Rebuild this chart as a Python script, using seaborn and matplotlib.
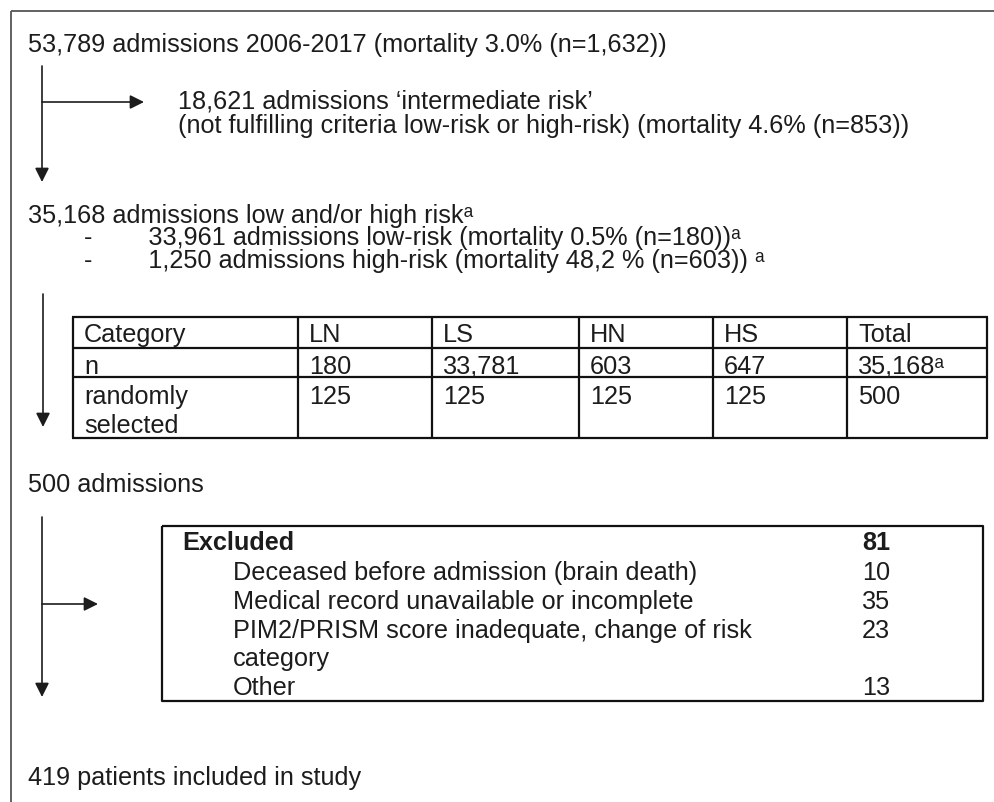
import matplotlib
matplotlib.use("Agg")
import matplotlib.pyplot as plt
import seaborn as sns

sns.set_theme(style="white")
plt.rcParams['font.family'] = ['Liberation Sans', 'DejaVu Sans']

SUPA = "\u1d43"  # modifier letter small a (superscript a)

# ---------------- data ----------------
total_line = "53,789 admissions 2006-2017 (mortality 3.0% (n=1,632))"
intermediate_lines = ["18,621 admissions \u2018intermediate risk\u2019",
                      "(not fulfilling criteria low-risk or high-risk) (mortality 4.6% (n=853))"]
lowhigh_line = "35,168 admissions low and/or high risk" + SUPA
sub_lines = ["33,961 admissions low-risk (mortality 0.5% (n=180))" + SUPA,
             "1,250 admissions high-risk (mortality 48,2 % (n=603)) " + SUPA]
categories = ["Category", "LN", "LS", "HN", "HS", "Total"]
n_values = ["n", "180", "33,781", "603", "647", "35,168" + SUPA]
selected_values = ["randomly\nselected", "125", "125", "125", "125", "500"]
selected_line = "500 admissions"
excluded_title = "Excluded"
excluded_total = "81"
excluded_reasons = ["Deceased before admission (brain death)",
                    "Medical record unavailable or incomplete",
                    "PIM2/PRISM score inadequate, change of risk\ncategory",
                    "Other"]
excluded_counts = ["10", "35", "23", "13"]
final_line = "419 patients included in study"

# ---------------- layout ----------------
W, H = 994, 803
FS = 18.2
TXT = "#1c1c1c"
fig = plt.figure(figsize=(W / 100, H / 100), dpi=100)
ax = fig.add_axes([0, 0, 1, 1])
ax.set_xlim(0, W)
ax.set_ylim(H, 0)
ax.axis("off")


def txt(x, y, s, **kw):
    kw.setdefault("fontsize", FS)
    kw.setdefault("color", TXT)
    kw.setdefault("va", "baseline")
    kw.setdefault("ha", "left")
    return ax.text(x, y, s, **kw)


def arrow(x0, y0, x1, y1):
    ax.annotate("", xy=(x1, y1), xytext=(x0, y0),
                arrowprops=dict(arrowstyle="-|>", color="#1c1c1c", lw=1.2,
                                mutation_scale=21, shrinkA=0, shrinkB=0))


def line(xs, ys, lw=1.2, color="#1c1c1c"):
    ax.plot(xs, ys, color=color, lw=lw, solid_capstyle="butt")


# outer frame (top and left)
line([11, W], [12, 12], lw=1.3, color="#555555")
line([11, 11], [12, H], lw=1.3, color="#555555")

# header
txt(28, 52, total_line)
arrow(42, 67, 42, 183)
arrow(42, 103, 144, 103)
# multi-line text with va=baseline is anchored at the last line's baseline
txt(178, 133, "\n".join(intermediate_lines), linespacing=1.0)

# low / high risk block (indent of the dash lines done with spaces)
indent = " " * 8 + "-" + " " * 8
block = "\n".join([lowhigh_line] + [indent + s for s in sub_lines])
txt(28, 268, block, linespacing=0.93)

arrow(43, 295, 43, 428)

# table
col_x = [73, 298, 432, 579, 713, 847, 987]
row_y = [318, 349, 378, 439]
tlw = 1.6
for x in col_x:
    line([x, x], [row_y[0], row_y[-1]], lw=tlw, color="#111111")
for y in row_y:
    line([col_x[0] - 0.8, col_x[-1] + 0.8], [y, y], lw=tlw, color="#111111")
for j in range(6):
    x = col_x[j] + 11
    txt(x, 342, categories[j])
    txt(x, 374, n_values[j])
    parts = selected_values[j].split("\n")
    for k, p in enumerate(parts):
        txt(x, 404 + 29 * k, p)

# 500 admissions
txt(28, 492, selected_line)
arrow(42, 518, 42, 698)
arrow(42, 605, 98, 605)

# excluded box
bx0, bx1, by0, by1 = 162, 983, 527, 702
line([bx0, bx1, bx1, bx0, bx0], [by0, by0, by1, by1, by0], lw=1.6, color="#111111")
txt(182, 550, excluded_title, fontweight="bold")
txt(862, 550, excluded_total, fontweight="bold")
y = 580
for reason, cnt in zip(excluded_reasons, excluded_counts):
    parts = reason.split("\n")
    txt(862, y, cnt)
    for p in parts:
        txt(233, y, p)
        y += 28.8

txt(28, 785, final_line)

fig.savefig("out.png", dpi=100, facecolor="white")
